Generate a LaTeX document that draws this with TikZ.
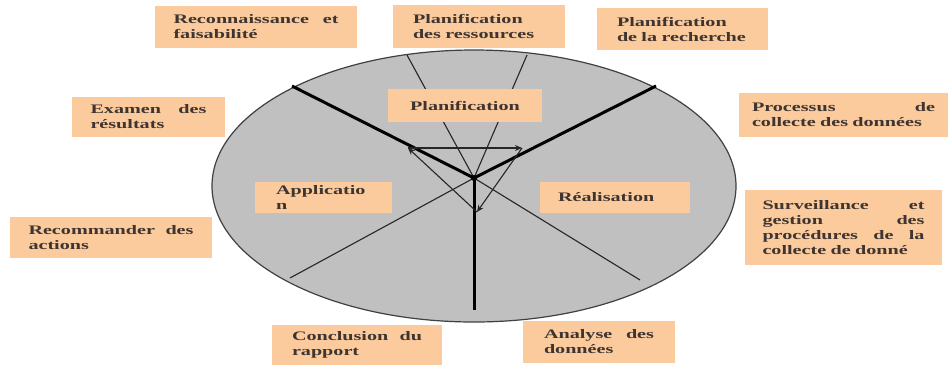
\documentclass[tikz,border=0pt]{standalone}
\usepackage{fontspec}
\newfontfamily\boxfont{Liberation Serif}[FakeStretch=1.55]
\usetikzlibrary{arrows.meta}
\definecolor{BoxPeach}{RGB}{251,203,158}
\definecolor{BoxText}{RGB}{62,52,48}
\definecolor{DiscGray}{RGB}{192,192,192}
\tikzset{
  box/.style={fill=BoxPeach,text=BoxText,inner sep=0pt,align=left,
    font=\boxfont\bfseries\fontsize{13}{15}\selectfont},
  spoke/.style={draw=black,line width=3pt},
  ray/.style={draw=black!85,line width=1.1pt},
  cyc/.style={draw=black!85,line width=1.1pt,-{Stealth[length=7pt,width=6pt]}},
}
\begin{document}
\begin{tikzpicture}[x=1pt,y=-1pt]
\useasboundingbox (0,0) rectangle (949,368);
\draw[fill=DiscGray,draw=black!75,line width=1.2pt] (474,186) ellipse [x radius=262,y radius=136];
\coordinate (hub) at (474,178);
\coordinate (ul) at (292,86);
\coordinate (ur) at (656,86);
\coordinate (dn) at (474,310);
\coordinate (tl) at (407,55);
\coordinate (tr) at (527,55);
\coordinate (bl) at (290,278);
\coordinate (br) at (640,280);
\coordinate (ca) at (408,148);
\coordinate (cb) at (522,148);
\coordinate (cc) at (477,212);
% thin rays
\draw[ray] (hub)--(tl);
\draw[ray] (hub)--(tr);
\draw[ray] (hub)--(bl);
\draw[ray] (hub)--(br);
% thick spokes
\draw[spoke] (hub)--(ul);
\draw[spoke] (hub)--(ur);
\draw[spoke] (hub)--(dn);
\fill (hub) circle (3);
% cycle arrows
\draw[cyc] (ca)--(cb);
\draw[cyc] (cb)--(cc);
\draw[cyc] (cc)--(ca);
% phases
\node[box,minimum width=154pt,minimum height=33pt,align=center] (planif) at (465,105.5) {Planification};
\node[box,minimum width=137pt,minimum height=31pt,text width=95pt] (appli) at (323.5,197.5) {Applicatio\\n};
\node[box,minimum width=150pt,minimum height=31pt,text width=114pt] (realis) at (615,197.5) {Réalisation};
% tasks
\node[box,minimum width=202pt,minimum height=42pt,text width=165pt] (recon) at (256,27) {Reconnaissance\hfill et\\faisabilité};
\node[box,minimum width=172pt,minimum height=43pt,text width=132pt] (planres) at (479,26.5) {Planification\\des ressources};
\node[box,minimum width=171pt,minimum height=42pt,text width=131pt] (planrech) at (682.5,29) {Planification\\de la recherche};
\node[box,minimum width=153pt,minimum height=40pt,text width=116pt] (examen) at (148.5,117) {Examen\hfill des\\résultats};
\node[box,minimum width=202pt,minimum height=41pt,text width=165pt] (recomm) at (111,237.5) {Recommander\hfill des\\actions};
\node[box,minimum width=209pt,minimum height=44pt,text width=183pt] (collecte) at (843.5,115) {Processus\hfill de\\collecte des données};
\node[box,minimum width=197pt,minimum height=75pt,text width=162pt] (surv) at (843.5,227.5) {Surveillance\hfill et\\gestion\hfill des\\procédures\hfill de\hfill la\\collecte de donné};
\node[box,minimum width=170pt,minimum height=40pt,text width=130pt] (concl) at (357,345) {Conclusion\hfill du\\rapport};
\node[box,minimum width=152pt,minimum height=42pt,text width=110pt] (analyse) at (599,342) {Analyse\hfill des\\données};
\end{tikzpicture}
\end{document}
